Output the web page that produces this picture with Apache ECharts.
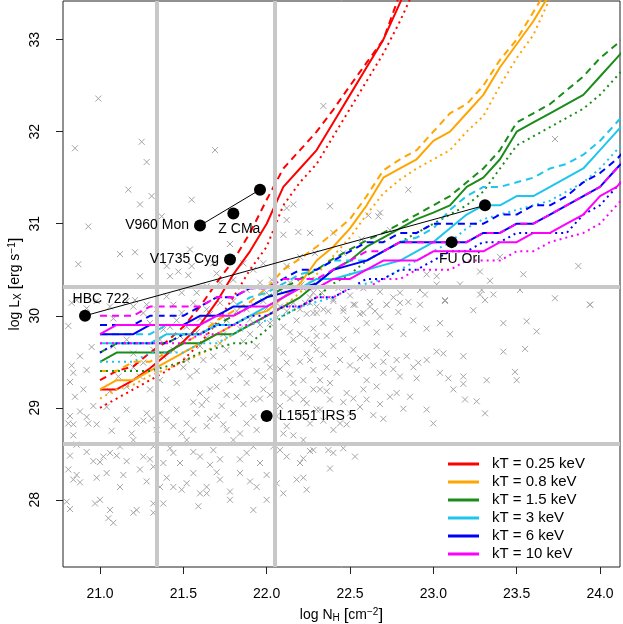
<!DOCTYPE html>
<html>
<head>
<meta charset="utf-8">
<script src="https://cdn.jsdelivr.net/npm/echarts@6/dist/echarts.min.js"></script>
<style>
  html, body { margin: 0; padding: 0; background: #fff; }
  #chart { width: 623px; height: 624px; }
</style>
</head>
<body>
<div id="chart"></div>
<script>
// log NH grid of the model curves
const nH = [21.0, 21.1, 21.2, 21.3, 21.4, 21.5, 21.6, 21.7, 21.8, 21.9, 22.0, 22.1, 22.2, 22.3, 22.4, 22.5,
  22.6, 22.7, 22.8, 22.9, 23.0, 23.1, 23.2, 23.3, 23.4, 23.5, 23.6, 23.7, 23.8, 23.9, 24.0, 24.1, 24.2]

// model curves, log Lx (solid / dashed / dotted)
const kt025Solid = [29.2, 29.2, 29.3, 29.43, 29.58, 29.72, 29.9, 30.15, 30.45, 30.7, 31.0, 31.4, 31.6, 31.8, 32.1, 32.4, 32.7, 33.0, 33.4, 33.8]
const kt025Dashed = [29.3, 29.4, 29.45, 29.6, 29.72, 29.88, 30.1, 30.36, 30.6, 30.9, 31.26, 31.6, 31.8, 32.0, 32.24, 32.5, 32.75, 33.0, 33.5, 33.9]
const kt025Dotted = [29.0, 29.1, 29.2, 29.3, 29.4, 29.52, 29.7, 29.92, 30.2, 30.5, 30.75, 31.2, 31.45, 31.65, 31.95, 32.25, 32.55, 32.85, 33.2, 33.6]

const kt08Solid = [29.2, 29.3, 29.3, 29.4, 29.5, 29.6, 29.7, 29.8, 29.9, 30.0, 30.05, 30.2, 30.35, 30.6, 30.75, 30.95, 31.2, 31.5, 31.6, 31.7, 31.9, 32.0, 32.2, 32.4, 32.7, 32.95, 33.2, 33.5, 33.8]
const kt08Dashed = [29.4, 29.4, 29.5, 29.5, 29.6, 29.7, 29.8, 29.95, 30.05, 30.15, 30.3, 30.5, 30.62, 30.75, 30.9, 31.05, 31.3, 31.58, 31.7, 31.8, 32.0, 32.2, 32.3, 32.5, 32.78, 33.0, 33.3, 33.6]
const kt08Dotted = [29.1, 29.2, 29.25, 29.35, 29.42, 29.5, 29.58, 29.68, 29.8, 29.9, 30.0, 30.1, 30.25, 30.45, 30.65, 30.85, 31.1, 31.33, 31.48, 31.6, 31.7, 31.8, 32.0, 32.17, 32.5, 32.8, 33.05, 33.45, 33.8]

const kt15Solid = [29.5, 29.6, 29.6, 29.6, 29.6, 29.7, 29.7, 29.8, 29.8, 29.9, 30.0, 30.1, 30.2, 30.35, 30.5, 30.6, 30.75, 30.85, 30.95, 31.05, 31.12, 31.2, 31.4, 31.5, 31.7, 32.0, 32.1, 32.2, 32.3, 32.4, 32.6, 32.8, 33.0]
const kt15Dashed = [29.6, 29.7, 29.7, 29.7, 29.7, 29.8, 29.8, 29.9, 30.0, 30.1, 30.2, 30.3, 30.4, 30.5, 30.62, 30.72, 30.82, 30.9, 31.0, 31.1, 31.2, 31.3, 31.45, 31.6, 31.8, 32.1, 32.2, 32.3, 32.45, 32.6, 32.8, 32.95, 33.1]
const kt15Dotted = [29.4, 29.4, 29.4, 29.4, 29.45, 29.5, 29.6, 29.65, 29.7, 29.7, 29.85, 30.0, 30.1, 30.2, 30.35, 30.45, 30.6, 30.7, 30.8, 30.9, 31.0, 31.1, 31.2, 31.35, 31.6, 31.85, 31.95, 32.05, 32.15, 32.25, 32.4, 32.6, 32.8]

const kt3Solid = [29.7, 29.7, 29.7, 29.7, 29.8, 29.8, 29.8, 29.9, 29.9, 30.0, 30.1, 30.2, 30.3, 30.4, 30.4, 30.45, 30.5, 30.55, 30.6, 30.7, 30.8, 30.95, 31.1, 31.2, 31.2, 31.3, 31.3, 31.4, 31.5, 31.6, 31.8, 32.0, 32.2]
const kt3Dashed = [29.8, 29.8, 29.8, 29.8, 29.9, 29.9, 29.9, 30.0, 30.1, 30.2, 30.25, 30.35, 30.45, 30.5, 30.6, 30.6, 30.6, 30.7, 30.8, 30.85, 30.95, 31.15, 31.3, 31.4, 31.4, 31.45, 31.5, 31.6, 31.65, 31.75, 31.9, 32.1, 32.3]
const kt3Dotted = [29.5, 29.5, 29.5, 29.6, 29.6, 29.6, 29.7, 29.7, 29.8, 29.9, 29.95, 30.0, 30.1, 30.15, 30.2, 30.3, 30.35, 30.4, 30.5, 30.6, 30.7, 30.8, 30.95, 31.05, 31.1, 31.15, 31.2, 31.25, 31.35, 31.45, 31.6, 31.8, 32.0]

const kt6Solid = [29.8, 29.8, 29.8, 29.9, 29.9, 29.9, 30.0, 30.0, 30.1, 30.1, 30.2, 30.25, 30.3, 30.35, 30.5, 30.55, 30.6, 30.7, 30.8, 30.8, 30.8, 30.8, 30.8, 30.9, 30.9, 31.0, 31.0, 31.1, 31.2, 31.3, 31.4, 31.6, 31.8]
const kt6Dashed = [29.9, 29.9, 29.9, 30.0, 30.0, 30.0, 30.1, 30.2, 30.2, 30.3, 30.3, 30.4, 30.5, 30.5, 30.6, 30.7, 30.8, 30.8, 30.9, 30.9, 31.0, 31.0, 31.0, 31.0, 31.1, 31.1, 31.2, 31.2, 31.3, 31.45, 31.55, 31.7, 31.9]
const kt6Dotted = [29.6, 29.7, 29.7, 29.7, 29.7, 29.8, 29.8, 29.9, 29.9, 30.0, 30.0, 30.1, 30.1, 30.2, 30.2, 30.3, 30.4, 30.4, 30.5, 30.5, 30.6, 30.7, 30.7, 30.8, 30.8, 30.9, 30.9, 30.9, 30.9, 31.1, 31.2, 31.4, 31.6]

const kt10Solid = [29.8, 29.9, 29.9, 29.9, 29.9, 29.9, 29.9, 30.0, 30.0, 30.1, 30.1, 30.2, 30.3, 30.3, 30.4, 30.4, 30.5, 30.6, 30.6, 30.6, 30.7, 30.7, 30.7, 30.7, 30.8, 30.8, 30.9, 30.9, 31.0, 31.1, 31.3, 31.4, 31.6]
const kt10Dashed = [30.0, 30.0, 30.0, 30.1, 30.1, 30.1, 30.1, 30.2, 30.2, 30.3, 30.3, 30.4, 30.4, 30.4, 30.5, 30.6, 30.7, 30.7, 30.8, 30.8, 30.8, 30.8, 30.8, 30.9, 30.9, 31.0, 31.0, 31.1, 31.2, 31.3, 31.4, 31.6, 31.8]
const kt10Dotted = [29.7, 29.7, 29.7, 29.7, 29.7, 29.7, 29.8, 29.8, 29.9, 29.9, 30.0, 30.1, 30.1, 30.2, 30.2, 30.3, 30.3, 30.4, 30.4, 30.5, 30.5, 30.5, 30.6, 30.6, 30.6, 30.7, 30.7, 30.8, 30.85, 30.9, 31.0, 31.2, 31.4]

const ktNames = ['kT = 0.25 keV', 'kT = 0.8 keV', 'kT = 1.5 keV', 'kT = 3 keV', 'kT = 6 keV', 'kT = 10 keV']
const ktColors = ['#ff0000', '#ffa500', '#1a8c1a', '#1ec6ec', '#0000ff', '#ff00ff']

// comparison sample (gray crosses): [log NH, log Lx]
const sample = [
  [20.99, 32.36], [20.85, 31.82], [20.93, 30.97], [20.87, 30.56], [21.25, 31.89], [21.28, 31.67], [21.17, 31.37],
  [21.24, 31.21], [21.31, 31.30], [21.12, 30.67], [21.21, 30.69], [21.24, 30.43], [21.37, 31.08], [21.55, 31.26],
  [21.69, 31.80], [21.54, 30.72], [21.40, 30.54], [21.42, 30.43], [21.78, 30.78], [22.12, 31.17], [22.16, 31.21],
  [22.12, 31.04], [22.19, 30.91], [22.10, 30.88], [20.83, 30.14], [20.98, 30.16],
  [21.47, 30.48], [21.53, 30.44], [21.55, 30.54], [21.68, 30.57], [21.70, 30.46], [21.86, 30.57], [21.92, 30.50],
  [21.98, 30.57], [22.03, 30.39], [22.12, 30.54], [22.20, 30.64], [22.27, 30.39], [22.29, 30.68],
  [21.06, 30.10], [21.16, 30.16], [21.21, 30.17], [21.28, 30.12], [21.40, 30.21], [21.49, 30.25], [21.58, 30.25],
  [21.64, 30.32], [21.72, 30.36], [21.80, 30.39], [21.88, 30.28], [21.96, 30.36], [22.00, 30.25], [22.08, 30.28],
  [22.14, 30.36], [22.21, 30.34], [22.28, 30.25], [20.86, 30.17], [20.92, 30.08],
  [22.34, 32.28], [22.85, 31.37], [23.73, 31.92], [22.38, 31.19], [22.68, 31.12], [22.67, 31.08], [22.74, 30.93],
  [22.57, 30.83], [22.46, 30.68], [22.40, 30.90], [22.26, 30.90], [22.61, 31.09], [23.87, 30.54], [23.54, 30.45],
  [23.28, 30.48], [23.40, 30.64], [23.36, 30.23], [23.28, 30.23], [23.29, 30.28], [23.07, 30.16], [23.16, 30.34],
  [23.02, 30.34], [22.95, 30.23], [22.92, 30.28], [22.80, 30.25], [23.52, 30.28], [23.73, 30.19], [23.94, 30.12],
  [22.96, 30.45], [23.02, 30.43], [23.34, 30.38],
  [22.22, 30.30], [22.26, 30.20], [22.30, 30.10], [22.33, 30.25], [22.37, 30.05], [22.40, 30.18], [22.43, 30.30],
  [22.46, 30.08], [22.50, 30.22], [22.53, 30.12], [22.56, 30.02], [22.58, 30.30], [22.62, 30.15], [22.65, 30.05],
  [22.68, 30.26], [22.72, 30.12], [22.76, 30.20], [22.79, 30.04], [22.85, 30.15],
  [22.23, 30.14], [22.28, 30.03], [22.34, 30.07], [22.40, 30.16], [22.46, 30.05], [22.52, 30.12], [22.58, 30.03],
  [22.62, 30.10], [22.68, 29.99], [22.72, 30.12], [22.80, 30.14], [22.92, 30.12], [23.07, 30.17], [23.24, 30.06],
  [23.31, 30.17], [23.42, 29.92], [23.56, 29.94], [23.62, 29.83], [23.94, 30.12],
  [22.24, 29.74], [22.30, 29.63], [22.36, 29.78], [22.40, 29.67], [22.46, 29.74], [22.52, 29.63], [22.60, 29.56],
  [22.66, 29.67], [22.72, 29.59], [22.78, 29.52], [22.84, 29.56], [22.91, 29.49], [23.02, 29.61], [23.06, 29.59],
  [23.18, 29.56], [23.42, 29.61], [23.55, 29.64], [23.49, 29.39], [23.50, 29.30],
  [22.22, 29.30], [22.28, 29.41], [22.32, 29.20], [22.38, 29.27], [22.42, 29.38], [22.48, 29.16], [22.54, 29.41],
  [22.60, 29.30], [22.66, 29.23], [22.70, 29.38], [22.74, 29.12], [22.80, 29.34], [22.86, 29.12], [22.90, 29.32],
  [23.04, 29.38], [23.09, 29.32], [23.18, 29.34], [23.18, 29.26], [23.32, 29.30], [23.12, 29.20], [23.19, 29.09],
  [23.26, 29.07], [23.31, 28.94],
  [22.24, 29.05], [22.32, 28.98], [22.38, 29.09], [22.44, 28.83], [22.50, 28.94], [22.56, 29.01], [22.60, 29.09],
  [22.64, 28.92], [22.82, 28.99], [22.96, 28.98], [23.00, 28.83],
  [22.22, 28.65], [22.26, 28.53], [22.37, 28.54], [22.40, 28.51], [22.46, 28.56], [22.53, 28.47], [22.38, 28.34],
  [22.22, 28.45], [22.22, 28.24], [22.24, 28.11],
  [20.81, 29.89], [21.08, 29.97], [21.20, 30.10], [21.26, 30.03], [21.34, 30.07], [21.44, 30.12], [21.49, 30.03],
  [21.56, 30.14], [21.64, 30.07], [21.72, 30.14], [21.80, 30.16], [21.88, 30.07], [21.92, 30.12], [21.98, 30.16],
  [22.08, 30.10], [22.16, 30.14], [22.20, 30.07], [22.26, 30.14], [22.30, 30.03],
  [21.30, 29.92], [21.38, 29.85], [21.46, 29.95], [21.52, 29.88], [21.60, 29.97], [21.68, 29.90], [21.76, 29.95],
  [21.84, 29.86], [21.90, 29.96], [22.02, 29.92], [22.10, 29.88], [22.18, 29.95], [22.28, 29.86],
  [20.83, 29.46], [20.84, 29.38], [20.92, 29.41], [21.08, 29.67], [21.20, 29.59], [21.26, 29.49], [21.32, 29.63],
  [21.38, 29.56], [21.44, 29.63], [21.52, 29.52], [21.60, 29.67], [21.68, 29.56], [21.76, 29.63], [21.80, 29.49],
  [21.86, 29.59], [21.94, 29.67], [22.00, 29.52], [22.06, 29.63], [22.12, 29.49], [22.16, 29.74], [22.24, 29.59],
  [22.28, 29.70], [21.16, 29.74], [21.36, 29.74], [21.48, 29.78], [21.64, 29.76], [21.72, 29.70], [21.90, 29.80],
  [22.04, 29.76], [22.20, 29.80],
  [20.85, 29.12], [21.11, 29.34], [21.16, 29.23], [21.24, 29.34], [21.30, 29.20], [21.36, 29.30], [21.40, 29.09],
  [21.46, 29.27], [21.54, 29.34], [21.60, 29.16], [21.64, 29.09], [21.70, 29.23], [21.78, 29.30], [21.82, 29.12],
  [21.88, 29.27], [21.92, 29.09], [21.98, 29.20], [22.04, 29.30], [22.10, 29.16], [22.16, 29.27], [22.22, 29.09],
  [22.28, 29.20], [22.32, 29.30], [21.06, 29.18], [21.20, 29.44], [21.34, 29.42], [21.50, 29.44], [21.58, 29.40],
  [21.74, 29.44], [21.94, 29.40], [22.08, 29.42],
  [20.82, 28.91], [20.81, 28.83], [20.84, 28.82], [20.84, 28.70], [20.92, 28.90], [20.93, 28.83], [20.98, 28.82],
  [21.04, 29.01], [21.10, 28.87], [21.16, 28.98], [21.22, 28.83], [21.28, 28.94], [21.34, 28.76], [21.40, 28.87],
  [21.46, 28.98], [21.52, 28.83], [21.58, 28.94], [21.64, 28.80], [21.70, 28.91], [21.76, 28.76], [21.80, 28.94],
  [21.88, 28.83], [21.94, 28.76], [22.06, 28.91], [22.12, 28.80], [22.20, 28.94], [22.26, 28.83], [22.30, 28.98],
  [21.07, 28.75], [21.19, 28.72], [21.31, 28.88], [21.49, 28.72], [21.61, 29.03], [21.73, 29.02], [21.84, 28.72],
  [22.16, 28.70],
  [20.96, 28.42], [21.00, 28.41], [21.02, 28.47], [21.06, 28.51], [21.12, 28.58], [21.20, 28.65], [21.26, 28.47],
  [21.32, 28.58], [21.38, 28.40], [21.44, 28.51], [21.48, 28.40], [21.52, 28.65], [21.60, 28.47], [21.68, 28.54],
  [21.72, 28.44], [21.80, 28.65], [21.88, 28.51], [21.96, 28.40], [22.04, 28.58], [22.12, 28.47], [22.20, 28.40],
  [22.28, 28.54],
  [20.81, 28.33], [20.84, 28.22], [20.86, 28.27], [20.88, 28.19], [20.98, 28.24], [21.04, 28.29], [21.14, 28.27],
  [21.24, 28.33], [21.32, 28.36], [21.36, 28.14], [21.44, 28.14], [21.49, 28.11], [21.56, 28.29], [21.60, 28.07],
  [21.64, 28.14], [21.72, 28.22], [21.78, 28.09], [21.84, 28.29], [21.90, 28.20], [22.00, 28.27], [22.10, 28.07],
  [22.18, 28.22],
  [20.80, 27.98], [20.82, 27.90], [20.97, 27.96], [21.00, 28.00], [21.05, 27.80], [21.08, 27.75], [21.06, 27.89],
  [21.20, 27.86], [21.22, 27.89], [21.32, 27.96], [21.32, 27.86], [21.38, 27.96], [21.59, 27.93], [21.64, 28.07],
  [21.78, 28.00], [21.92, 27.89], [22.00, 28.00],
  [21.42, 29.88], [21.58, 29.82], [21.66, 30.02], [21.74, 29.80], [21.82, 30.05], [21.86, 29.72], [21.96, 29.90],
  [22.00, 30.08], [22.06, 29.98], [22.12, 30.05], [22.14, 29.82], [22.24, 30.02], [22.30, 29.78], [22.34, 29.92],
  [22.42, 29.86], [22.48, 29.96], [22.54, 29.84], [22.60, 29.92], [22.66, 29.82], [22.74, 29.88], [22.82, 29.80],
  [22.88, 29.95], [22.96, 29.86], [23.04, 29.92], [23.10, 29.80],
  [21.62, 29.52], [21.70, 29.40], [21.84, 29.36], [21.90, 29.55], [21.98, 29.34], [22.02, 29.44], [22.10, 29.60],
  [22.14, 29.36], [22.20, 29.50], [22.26, 29.52], [22.34, 29.58], [22.36, 29.44], [22.44, 29.52], [22.50, 29.46],
  [22.56, 29.54], [22.64, 29.46], [22.70, 29.50], [22.76, 29.42], [22.88, 29.44], [22.96, 29.52],
  [21.56, 29.06], [21.66, 29.20], [21.76, 29.14], [21.86, 29.04], [21.96, 29.10], [22.02, 29.14], [22.08, 29.02],
  [22.14, 29.10], [22.18, 29.16], [22.36, 29.18], [22.46, 29.06], [22.52, 29.10], [22.58, 29.20], [22.68, 29.04],
  [22.78, 29.16],
  [21.26, 28.86], [21.36, 28.94], [21.44, 28.80], [21.56, 28.76], [21.66, 28.88], [21.74, 28.82], [21.92, 28.90],
  [22.10, 28.72], [22.34, 28.86], [22.40, 28.76], [22.48, 28.82], [22.70, 28.88],
  [21.10, 28.48], [21.16, 28.42], [21.30, 28.44], [21.42, 28.56], [21.56, 28.52], [21.66, 28.38], [21.84, 28.44],
  [21.92, 28.58], [22.08, 28.54],
  [21.12, 28.14], [21.28, 28.20], [21.40, 28.24], [21.52, 28.18], [21.70, 28.30], [21.94, 28.14], [22.06, 28.18],
  [20.88, 29.56], [20.95, 29.66], [20.82, 29.28], [20.90, 29.20], [20.96, 29.02], [20.88, 28.96], [20.86, 28.60],
  [20.92, 28.52], [20.82, 28.48]
]

// named FUor-type sources
const srcNames = ['HBC 722', 'V960 Mon', 'Z CMa', 'V1735 Cyg', 'FU Ori', 'L1551 IRS 5']
const srcNH = [20.91, 21.60, 21.80, 21.78, 23.11, 22.00]
const srcLx = [30.00, 30.98, 31.11, 30.61, 30.80, 28.91]
// second epoch of HBC 722 and V960 Mon
const hbc722Track = [[20.91, 30.00], [23.31, 31.20]]
const v960Track = [[21.60, 30.98], [21.96, 31.37]]

// sample selection cuts
const cutNH = [21.34, 22.05]
const cutLx = [30.31, 28.61]

const xTicks = [21.0, 21.5, 22.0, 22.5, 23.0, 23.5, 24.0]
const yTicks = [28, 29, 30, 31, 32, 33]

const FONT = '"Liberation Sans", Arial, Helvetica, sans-serif'

const chart = echarts.init(document.getElementById('chart'))

const modelSets = [
  [kt025Solid, kt025Dashed, kt025Dotted],
  [kt08Solid, kt08Dashed, kt08Dotted],
  [kt15Solid, kt15Dashed, kt15Dotted],
  [kt3Solid, kt3Dashed, kt3Dotted],
  [kt6Solid, kt6Dashed, kt6Dotted],
  [kt10Solid, kt10Dashed, kt10Dotted]
]
const lineTypes = ['solid', [7, 5], [2, 4]]

const modelSeries = []
modelSets.forEach((set, i) => {
  set.forEach((vals, j) => {
    modelSeries.push({
      name: j === 0 ? ktNames[i] : ktNames[i] + ' #' + j,
      type: 'line',
      data: vals.map((v, k) => [nH[k], v]),
      color: ktColors[i],
      showSymbol: false,
      symbol: 'none',
      clip: true,
      silent: true,
      lineStyle: {color: ktColors[i], width: 2, type: lineTypes[j], cap: 'butt'},
      itemStyle: {color: ktColors[i]},
      z: 3
    })
  })
})

// label placement for each source
const labelPlace = [
  {position: 'top', offset: [16, 1]},
  {position: 'left', distance: 5},
  {position: 'bottom', offset: [6, -2]},
  {position: 'left', distance: 5},
  {position: 'bottom', offset: [8, -1]},
  {position: 'right', distance: 6}
]

const richName = {
  sub: {fontSize: 10, padding: [6, 0, 0, 0], fontFamily: FONT},
  sup: {fontSize: 10, padding: [0, 0, 7, 0], fontFamily: FONT},
  br: {fontSize: 17, fontFamily: FONT}
}

const option = {
  animation: false,
  backgroundColor: '#fff',
  grid: {
    left: 63, right: 3, top: 1, bottom: 57,
    containLabel: false,
    outerBoundsMode: 'none',
    show: true, borderColor: '#222', borderWidth: 1, backgroundColor: 'transparent'
  },
  xAxis: {
    type: 'value',
    min: 20.778,
    max: 24.12,
    axisLine: {show: false},
    splitLine: {show: false},
    axisTick: {show: true, inside: false, length: 7, customValues: xTicks, lineStyle: {color: '#222'}},
    axisLabel: {customValues: xTicks, margin: 20, fontSize: 14, color: '#000', fontFamily: FONT, formatter: v => v.toFixed(1)},
    name: 'log N{sub|H} {br|[}cm{sup|−2}{br|]}',
    nameLocation: 'middle',
    nameGap: 40,
    nameTextStyle: {fontSize: 14, color: '#000', fontFamily: FONT, rich: richName}
  },
  yAxis: {
    type: 'value',
    min: 27.27,
    max: 33.42,
    axisLine: {show: false},
    splitLine: {show: false},
    axisTick: {show: true, inside: false, length: 7, customValues: yTicks, lineStyle: {color: '#222'}},
    // tick labels are drawn rotated below, R style
    axisLabel: {show: false},
    name: 'log L{sub|X} {br|[}erg s{sup|−1}{br|]}',
    nameLocation: 'middle',
    nameGap: 39,
    nameRotate: 90,
    nameTextStyle: {fontSize: 14, color: '#000', fontFamily: FONT, rich: richName}
  },
  legend: {
    data: ktNames,
    orient: 'vertical',
    left: 443,
    top: 450,
    icon: 'rect',
    itemWidth: 31,
    itemHeight: 3,
    itemGap: 0,
    selectedMode: false,
    textStyle: {fontSize: 15, lineHeight: 18, color: '#000', fontFamily: FONT, padding: [0, 0, 0, 8]}
  },
  series: [
    {
      name: 'cuts',
      type: 'scatter',
      data: [],
      silent: true,
      z: 1,
      markLine: {
        silent: true,
        symbol: 'none',
        animation: false,
        label: {show: false},
        lineStyle: {color: '#c8c8c8', width: 4, type: 'solid', opacity: 1},
        data: cutNH.map(v => ({xAxis: v})).concat(cutLx.map(v => ({yAxis: v})))
      }
    },
    {
      name: 'sample',
      type: 'scatter',
      data: sample,
      symbol: 'path://M0,0L10,10M10,0L0,10',
      symbolSize: 6,
      silent: true,
      itemStyle: {color: 'none', borderColor: '#a4a4a4', borderWidth: 1, opacity: 1},
      z: 2
    },
    ...modelSeries,
    {
      name: 'hbc track',
      type: 'line',
      data: hbc722Track,
      symbol: 'none',
      silent: true,
      lineStyle: {color: '#000', width: 1},
      z: 5
    },
    {
      name: 'v960 track',
      type: 'line',
      data: v960Track,
      symbol: 'none',
      silent: true,
      lineStyle: {color: '#000', width: 1},
      z: 5
    },
    {
      name: 'epoch 2',
      type: 'scatter',
      data: [hbc722Track[1], v960Track[1]],
      symbolSize: 12,
      silent: true,
      itemStyle: {color: '#000', opacity: 1},
      z: 6
    },
    {
      name: 'sources',
      type: 'scatter',
      symbolSize: 12,
      silent: true,
      itemStyle: {color: '#000', opacity: 1},
      z: 6,
      data: srcNames.map((n, i) => ({
        value: [srcNH[i], srcLx[i]],
        name: n,
        label: Object.assign({show: true, formatter: n, color: '#000', fontSize: 14, fontFamily: FONT}, labelPlace[i])
      }))
    }
  ]
}

chart.setOption(option)

// rotated y tick labels, placed through the y axis scale
const gridLeft = 63
chart.setOption({
  graphic: yTicks.map(v => ({
    type: 'text',
    x: gridLeft - 28,
    y: chart.convertToPixel({yAxisIndex: 0}, v),
    rotation: Math.PI / 2,
    silent: true,
    style: {text: String(v), fontSize: 14, fontFamily: FONT, fill: '#000', align: 'center', verticalAlign: 'middle'}
  }))
})
</script>
</body>
</html>
